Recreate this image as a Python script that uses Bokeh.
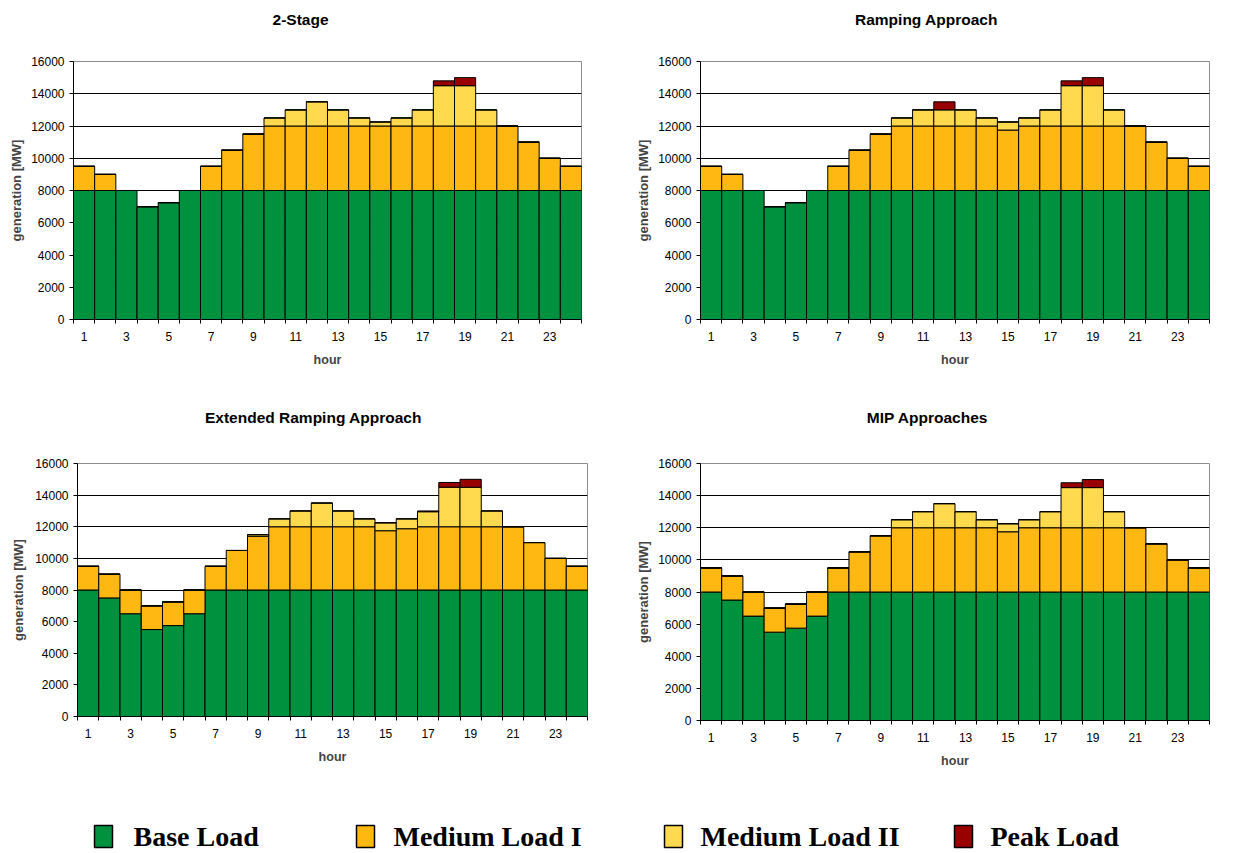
from bokeh.plotting import figure
from bokeh.models import ColumnDataSource, Range1d, FixedTicker
from bokeh.layouts import row, column
from bokeh.embed import file_html
from bokeh.resources import INLINE
from bokeh.core.properties import value

# ---------------- data ----------------
hours = [1, 2, 3, 4, 5, 6, 7, 8, 9, 10, 11, 12, 13, 14, 15, 16, 17, 18, 19, 20, 21, 22, 23, 24]
hour_tick_labels = [1, 3, 5, 7, 9, 11, 13, 15, 17, 19, 21, 23]
y_ticks = [0, 2000, 4000, 6000, 8000, 10000, 12000, 14000, 16000]

series_names = ["Base Load", "Medium Load I", "Medium Load II", "Peak Load"]
series_colors = ["#00913F", "#FFB711", "#FFDA4F", "#990000"]

panel_titles = ["2-Stage", "Ramping Approach", "Extended Ramping Approach", "MIP Approaches"]

two_stage_base = [8000, 8000, 8000, 7000, 7250, 8000, 8000, 8000, 8000, 8000, 8000, 8000,
                  8000, 8000, 8000, 8000, 8000, 8000, 8000, 8000, 8000, 8000, 8000, 8000]
two_stage_med1 = [1500, 1000, 0, 0, 0, 0, 1500, 2500, 3500, 4000, 4000, 4000,
                  4000, 4000, 4000, 4000, 4000, 4000, 4000, 4000, 4000, 3000, 2000, 1500]
two_stage_med2 = [0, 0, 0, 0, 0, 0, 0, 0, 0, 500, 1000, 1500,
                  1000, 500, 250, 500, 1000, 2500, 2500, 1000, 0, 0, 0, 0]
two_stage_peak = [0, 0, 0, 0, 0, 0, 0, 0, 0, 0, 0, 0,
                  0, 0, 0, 0, 0, 300, 500, 0, 0, 0, 0, 0]

ramping_base = [8000, 8000, 8000, 7000, 7250, 8000, 8000, 8000, 8000, 8000, 8000, 8000,
                8000, 8000, 8000, 8000, 8000, 8000, 8000, 8000, 8000, 8000, 8000, 8000]
ramping_med1 = [1500, 1000, 0, 0, 0, 0, 1500, 2500, 3500, 4000, 4000, 4000,
                4000, 4000, 3750, 4000, 4000, 4000, 4000, 4000, 4000, 3000, 2000, 1500]
ramping_med2 = [0, 0, 0, 0, 0, 0, 0, 0, 0, 500, 1000, 1000,
                1000, 500, 500, 500, 1000, 2500, 2500, 1000, 0, 0, 0, 0]
ramping_peak = [0, 0, 0, 0, 0, 0, 0, 0, 0, 0, 0, 500,
                0, 0, 0, 0, 0, 300, 500, 0, 0, 0, 0, 0]

ext_ramping_base = [8000, 7500, 6500, 5500, 5750, 6500, 8000, 8000, 8000, 8000, 8000, 8000,
                    8000, 8000, 8000, 8000, 8000, 8000, 8000, 8000, 8000, 8000, 8000, 8000]
ext_ramping_med1 = [1500, 1500, 1500, 1500, 1500, 1500, 1500, 2500, 3400, 4000, 4000, 4000,
                    4000, 4000, 3750, 3875, 4000, 4000, 4000, 4000, 4000, 3000, 2000, 1500]
ext_ramping_med2 = [0, 0, 0, 0, 0, 0, 0, 0, 100, 500, 1000, 1500,
                    1000, 500, 500, 625, 950, 2500, 2500, 1000, 0, 0, 0, 0]
ext_ramping_peak = [0, 0, 0, 0, 0, 0, 0, 0, 0, 0, 0, 0,
                    0, 0, 0, 0, 50, 300, 500, 0, 0, 0, 0, 0]

mip_base = [8000, 7500, 6500, 5500, 5750, 6500, 8000, 8000, 8000, 8000, 8000, 8000,
            8000, 8000, 8000, 8000, 8000, 8000, 8000, 8000, 8000, 8000, 8000, 8000]
mip_med1 = [1500, 1500, 1500, 1500, 1500, 1500, 1500, 2500, 3500, 4000, 4000, 4000,
            4000, 4000, 3750, 4000, 4000, 4000, 4000, 4000, 4000, 3000, 2000, 1500]
mip_med2 = [0, 0, 0, 0, 0, 0, 0, 0, 0, 500, 1000, 1500,
            1000, 500, 500, 500, 1000, 2500, 2500, 1000, 0, 0, 0, 0]
mip_peak = [0, 0, 0, 0, 0, 0, 0, 0, 0, 0, 0, 0,
            0, 0, 0, 0, 0, 300, 500, 0, 0, 0, 0, 0]

panel_data = [
    (two_stage_base, two_stage_med1, two_stage_med2, two_stage_peak),
    (ramping_base, ramping_med1, ramping_med2, ramping_peak),
    (ext_ramping_base, ext_ramping_med1, ext_ramping_med2, ext_ramping_peak),
    (mip_base, mip_med1, mip_med2, mip_peak),
]

# ---------------- layout (pixels) ----------------
PAGE_W = 1226
# (border_left, frame_width, border_right, border_top, frame_height, border_bottom, ylabel_standoff)
panel_geom = [
    (73, 508, 51, 23, 258, 81, 4),
    (68, 509, 17, 23, 258, 81, 4),
    (77, 510, 45, 23, 253, 74, 6),
    (68, 509, 17, 21, 257, 72, 4),
]
title_strip_h = [38, 40]
title_center_x = [[300, 926], [313, 927]]
title_center_y = [19, 23]
legend_h = 63
legend_square_x = [103, 365, 673, 963]
legend_text_x = [133, 393, 700, 990]
legend_y = 17

FONT = "Liberation Sans"
keys = ["base", "med1", "med2", "peak"]


def make_panel(data, geom):
    bl, fw, br, bt, fh, bb, ystand = geom
    p = figure(frame_width=fw, frame_height=fh,
               min_border_left=bl, min_border_right=br,
               min_border_top=bt, min_border_bottom=bb,
               x_range=Range1d(0.5, 24.5), y_range=Range1d(0, 16000),
               output_backend="svg", toolbar_location=None, tools="")
    src = ColumnDataSource(dict(hour=hours, base=data[0], med1=data[1], med2=data[2], peak=data[3]))
    p.vbar_stack(keys, x="hour", width=1.0, source=src,
                 fill_color=series_colors, line_color="black", line_width=1)

    p.outline_line_color = "#8c8c8c"
    p.outline_line_width = 1
    p.background_fill_color = "white"
    p.border_fill_color = "white"

    p.xgrid.visible = False
    p.ygrid.ticker = FixedTicker(ticks=y_ticks[1:-1])
    p.ygrid.grid_line_color = "black"
    p.ygrid.grid_line_width = 1

    yax = p.yaxis[0]
    yax.ticker = FixedTicker(ticks=y_ticks)
    yax.axis_label = "generation [MW]"
    yax.axis_label_text_font = FONT
    yax.axis_label_text_font_style = "bold"
    yax.axis_label_text_font_size = "13px"
    yax.axis_label_standoff = ystand
    yax.major_label_text_font = FONT
    yax.major_label_text_font_size = "12px"
    yax.major_label_text_color = "black"
    yax.major_label_standoff = 5
    yax.major_tick_out = 4
    yax.major_tick_in = 0
    yax.minor_tick_line_color = None
    yax.axis_line_color = "black"
    yax.major_tick_line_color = "black"

    xax = p.xaxis[0]
    xax.ticker = FixedTicker(ticks=hour_tick_labels,
                             minor_ticks=[h - 0.5 for h in hours] + [hours[-1] + 0.5])
    xax.axis_label = "hour"
    xax.axis_label_text_font = FONT
    xax.axis_label_text_font_style = "bold"
    xax.axis_label_text_font_size = "12.5px"
    xax.axis_label_standoff = 9
    xax.major_label_text_font = FONT
    xax.major_label_text_font_size = "12px"
    xax.major_label_text_color = "black"
    xax.major_label_standoff = 8
    xax.major_tick_line_color = None
    xax.major_tick_out = 4
    xax.major_tick_in = 0
    xax.minor_tick_line_color = "black"
    xax.minor_tick_out = 4
    xax.minor_tick_in = 0
    xax.axis_line_color = "black"
    return p


def make_strip(h):
    s = figure(frame_width=PAGE_W, frame_height=h,
               min_border_left=0, min_border_right=0, min_border_top=0, min_border_bottom=0,
               x_range=Range1d(0, PAGE_W), y_range=Range1d(0, h),
               output_backend="svg", toolbar_location=None, tools="")
    s.axis.visible = False
    s.grid.visible = False
    s.outline_line_color = None
    return s


panels = [make_panel(d, g) for d, g in zip(panel_data, panel_geom)]

title_strips = []
for i in range(2):
    s = make_strip(title_strip_h[i])
    s.text(x=title_center_x[i], y=[title_center_y[i]] * 2, text=panel_titles[2 * i:2 * i + 2],
           text_font=value(FONT), text_font_style="bold", text_font_size="15.5px",
           text_align="center", text_baseline="middle", text_color="black")
    title_strips.append(s)

leg = make_strip(legend_h)
leg.rect(x=legend_square_x, y=[legend_y] * 4, width=18, height=22,
         fill_color=series_colors, line_color="black", line_width=1.5)
leg.text(x=legend_text_x, y=[legend_y] * 4, text=series_names,
         text_font=value("Liberation Serif"), text_font_style="bold",
         text_font_size="28px", text_baseline="middle", text_align="left",
         text_color="black")

layout = column(title_strips[0], row(panels[0], panels[1]),
                title_strips[1], row(panels[2], panels[3]), leg)

open("out.html", "w").write(file_html(layout, INLINE))
